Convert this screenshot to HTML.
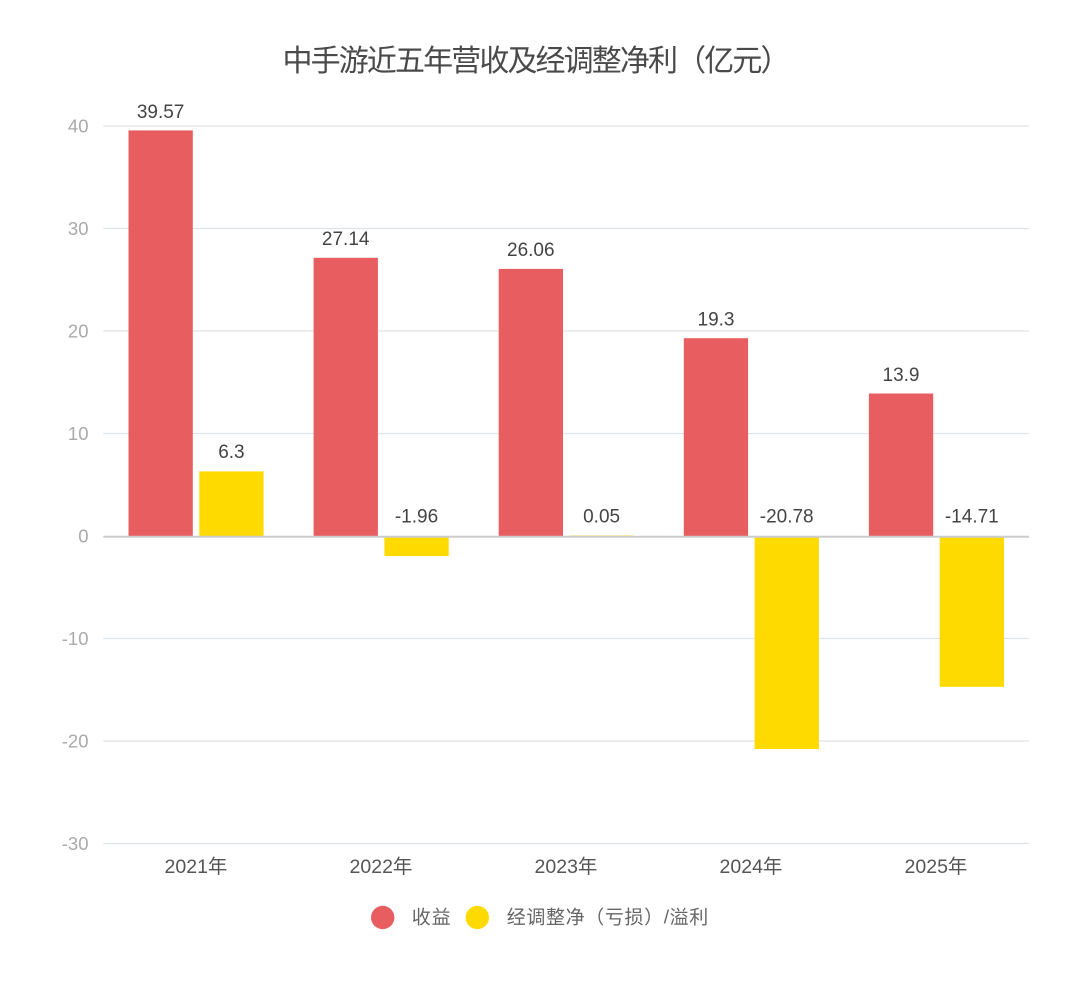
<!DOCTYPE html>
<html>
<head>
<meta charset="utf-8">
<style>
html,body{margin:0;padding:0;background:#fff;}
svg{display:block;}
text{font-family:"Liberation Sans","Noto Sans CJK SC",sans-serif;}
</style>
</head>
<body>
<svg width="1080" height="992" viewBox="0 0 1080 992" xmlns="http://www.w3.org/2000/svg">
<rect width="1080" height="992" fill="#fff"/>
<!-- title -->
<text x="536.5" y="71" font-size="30" fill="#4a4a4a" text-anchor="middle" textLength="508" lengthAdjust="spacing">中手游近五年营收及经调整净利（亿元）</text>

<!-- grid lines -->
<g stroke="#dfe2e8" stroke-width="1.3">
<line x1="103.3" x2="1029" y1="126" y2="126"/>
<line x1="103.3" x2="1029" y1="228.5" y2="228.5"/>
<line x1="103.3" x2="1029" y1="331" y2="331"/>
<line x1="103.3" x2="1029" y1="433.5" y2="433.5"/>
<line x1="103.3" x2="1029" y1="638.5" y2="638.5"/>
<line x1="103.3" x2="1029" y1="741" y2="741"/>
<line x1="103.3" x2="1029" y1="843.5" y2="843.5"/>
</g>

<!-- y tick labels -->
<g font-size="18.5" fill="#aaaaaa" text-anchor="end">
<text x="88.5" y="132.5">40</text>
<text x="88.5" y="235">30</text>
<text x="88.5" y="337.5">20</text>
<text x="88.5" y="440">10</text>
<text x="88.5" y="542.5">0</text>
<text x="88.5" y="645">-10</text>
<text x="88.5" y="747.5">-20</text>
<text x="88.5" y="850">-30</text>
</g>

<!-- bars -->
<g fill="#e85d5f">
<rect x="128.5" y="130.4" width="64.3" height="405.6"/>
<rect x="313.6" y="257.8" width="64.3" height="278.2"/>
<rect x="498.7" y="268.9" width="64.3" height="267.1"/>
<rect x="683.8" y="338.2" width="64.3" height="197.8"/>
<rect x="868.9" y="393.5" width="64.3" height="142.5"/>
</g>
<g fill="#ffda00">
<rect x="199.3" y="471.4" width="64.3" height="64.6"/>
<rect x="384.4" y="536" width="64.3" height="20.1"/>
<rect x="569.5" y="535.5" width="64.3" height="0.8"/>
<rect x="754.6" y="536" width="64.3" height="213"/>
<rect x="939.7" y="536" width="64.3" height="150.8"/>
</g>

<!-- zero axis line -->
<line x1="103.3" x2="1029" y1="536.8" y2="536.8" stroke="#cccccc" stroke-width="2"/>

<!-- data labels -->
<g font-size="19" fill="#444444" text-anchor="middle">
<text x="160.6" y="117.8">39.57</text>
<text x="345.7" y="245">27.14</text>
<text x="530.8" y="256">26.06</text>
<text x="716" y="325.3">19.3</text>
<text x="901" y="381">13.9</text>
<text x="231.4" y="457.8">6.3</text>
<text x="416.5" y="522.5">-1.96</text>
<text x="601.6" y="522.5">0.05</text>
<text x="786.7" y="522.5">-20.78</text>
<text x="971.8" y="522.5">-14.71</text>
</g>

<!-- x labels -->
<g font-size="19.5" fill="#555555" text-anchor="middle">
<text x="196" y="873">2021年</text>
<text x="381" y="873">2022年</text>
<text x="566" y="873">2023年</text>
<text x="751" y="873">2024年</text>
<text x="936" y="873">2025年</text>
</g>

<!-- legend -->
<circle cx="382.7" cy="917.5" r="11.7" fill="#e85d5f"/>
<text x="411.7" y="923.5" font-size="19" fill="#666666" textLength="39" lengthAdjust="spacing">收益</text>
<circle cx="477.3" cy="917.5" r="11.7" fill="#ffda00"/>
<text x="506.7" y="923.5" font-size="19" fill="#666666" textLength="201.6" lengthAdjust="spacing">经调整净（亏损）/溢利</text>
</svg>
</body>
</html>
